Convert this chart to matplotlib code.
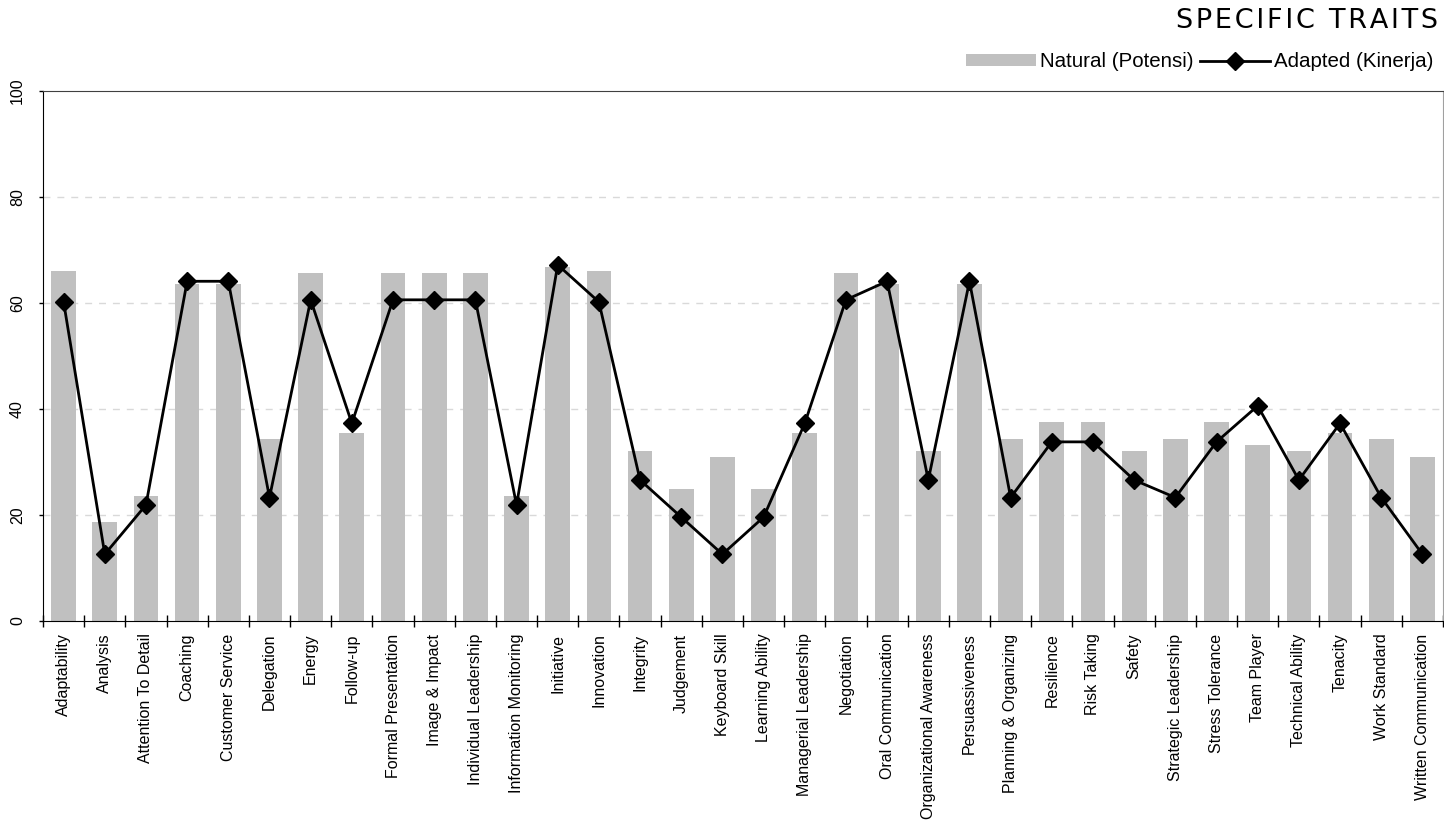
import numpy as np
import matplotlib
matplotlib.use("Agg")
import matplotlib.pyplot as plt

## Trait scores
traits = [
    "Adaptability", "Analysis", "Attention To Detail", "Coaching", "Customer Service",
    "Delegation", "Energy", "Follow-up", "Formal Presentation", "Image & Impact",
    "Individual Leadership", "Information Monitoring", "Initiative", "Innovation",
    "Integrity", "Judgement", "Keyboard Skill", "Learning Ability", "Managerial Leadership",
    "Negotiation", "Oral Communication", "Organizational Awareness", "Persuassiveness",
    "Planning & Organizing", "Resilience", "Risk Taking", "Safety", "Strategic Leadership",
    "Stress Tolerance", "Team Player", "Technical Ability", "Tenacity", "Work Standard",
    "Written Communication"]

natural = [66.0, 18.7, 23.6, 63.6, 63.6, 34.3, 65.7, 35.5, 65.7, 65.7,
           65.7, 23.6, 66.8, 66.0, 32.1, 24.9, 30.9, 24.9, 35.5, 65.7,
           63.6, 32.1, 63.6, 34.3, 37.5, 37.5, 32.1, 34.3, 37.5, 33.2,
           32.1, 35.5, 34.3, 30.9]

adapted = [60.2, 12.6, 21.9, 64.1, 64.1, 23.3, 60.6, 37.3, 60.6, 60.6,
           60.6, 21.9, 67.2, 60.2, 26.6, 19.6, 12.6, 19.6, 37.3, 60.6,
           64.1, 26.6, 64.1, 23.3, 33.8, 33.8, 26.6, 23.3, 33.8, 40.6,
           26.6, 37.3, 23.3, 12.6]

yticks = [0, 20, 40, 60, 80, 100]

plt.rcParams["font.family"] = ["Liberation Sans", "DejaVu Sans"]

fig = plt.figure(figsize=(14.44, 8.22), dpi=100)
ax = fig.add_axes([0.0298, 0.2445, 0.9695, 0.6448])

x = np.arange(len(traits))
bars = ax.bar(x, natural, width=0.6, color="#c0c0c0", label="Natural (Potensi)", zorder=2)
line, = ax.plot(x, adapted, color="black", linewidth=2, marker="D", markersize=9,
                label="Adapted (Kinerja)", zorder=3)

ax.set_xlim(-0.5, len(traits) - 0.5)
ax.set_ylim(0, 100)

# dashed grid
for v in yticks[1:-1]:
    ax.axhline(v, color="#d9d9d9", linewidth=1, dashes=(5, 5), zorder=1)

ax.set_yticks(yticks)
ax.set_yticklabels([str(v) for v in yticks], rotation=90, va="center", fontsize=11.5)
ax.tick_params(axis="y", direction="out", length=3, width=1, pad=10)

ax.set_xticks(x)
ax.set_xticklabels(traits, rotation=90, fontsize=11.5)
ax.set_xticks(np.arange(-0.5, len(traits)), minor=True)
ax.tick_params(axis="x", which="major", length=0, pad=9)
ax.tick_params(axis="x", which="minor", direction="inout", length=8, width=1)

ax.spines["left"].set_color("black")
ax.spines["bottom"].set_color("black")
ax.spines["top"].set_color("#404040")
ax.spines["right"].set_color("#a0a0a0")

# title with a little letter spacing
title = "\u200a".join("SPECIFIC TRAITS")
fig.text(0.9958, 0.9745, title, ha="right", va="center",
         fontsize=19.5, fontfamily="DejaVu Sans")

ax.legend([bars, line], ["Natural (Potensi)", "Adapted (Kinerja)"],
          loc="center right", bbox_to_anchor=(1.0, 0.9246),
          bbox_transform=fig.transFigure, ncol=2, frameon=False,
          fontsize=14.8, handlelength=3.4, handleheight=0.55, handletextpad=0.2,
          columnspacing=0.35, borderpad=0)

fig.savefig("out.png", dpi=100)
